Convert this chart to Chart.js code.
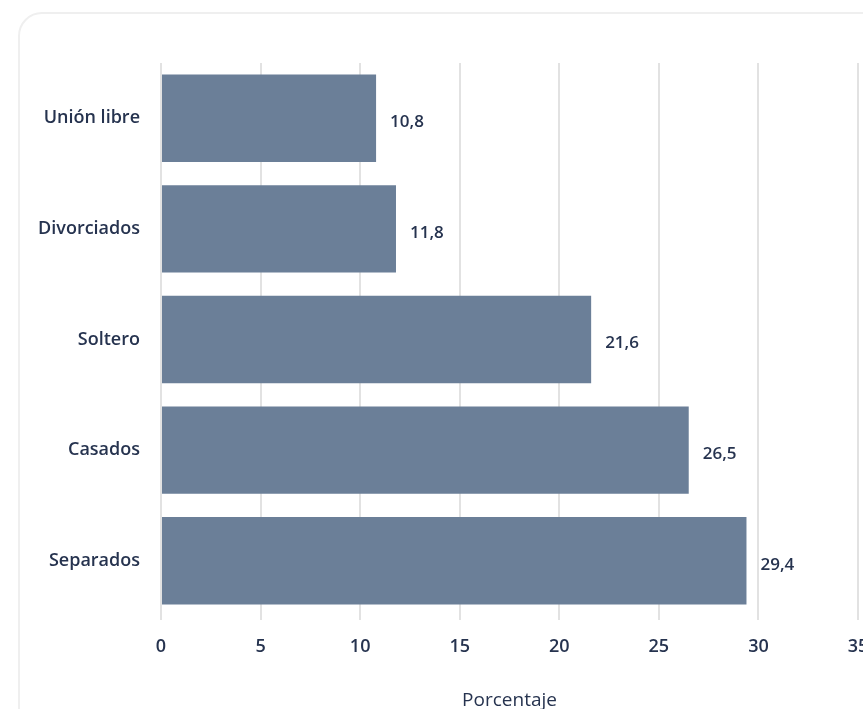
<!DOCTYPE html>
<html>
<head>
<meta charset="utf-8">
<script src="https://cdn.jsdelivr.net/npm/chart.js@4"></script>
<style>
  html,body{margin:0;padding:0;background:#fff;width:863px;height:709px;overflow:hidden;}
  .card{position:absolute;left:18px;top:12px;width:900px;height:720px;border:2px solid #efefef;border-radius:24px;box-sizing:border-box;}
  .wrap{position:absolute;left:0;top:0;width:880px;height:712px;}
</style>
</head>
<body>
<div class="card"></div>
<div class="wrap"><canvas id="chart" width="880" height="712"></canvas></div>
<script>
const categories=["Unión libre","Divorciados","Soltero","Casados","Separados"]
const values=[10.8,11.8,21.6,26.5,29.4]
const xTicks=[0,5,10,15,20,25,30,35]

const TEXT="#26334f"
const FONT="'Open Sans', sans-serif"

// value labels next to each bar, with a decimal comma
const valueLabels={
  id:"valueLabels",
  afterDatasetsDraw(chart){
    const ctx=chart.ctx
    const meta=chart.getDatasetMeta(0)
    ctx.save()
    ctx.fillStyle=TEXT
    ctx.font="600 17px "+FONT
    ctx.textAlign="left"
    ctx.textBaseline="middle"
    meta.data.forEach((bar,i)=>{
      const txt=values[i].toFixed(1).replace(".",",")
      ctx.fillText(txt,bar.x+14,bar.y+4)
    })
    ctx.restore()
  }
}

new Chart(document.getElementById("chart"),{
  type:"bar",
  data:{
    labels:categories,
    datasets:[{
      data:values,
      backgroundColor:"#6b7f98",
      borderWidth:0,
      categoryPercentage:1,
      barPercentage:0.79
    }]
  },
  options:{
    indexAxis:"y",
    responsive:false,
    animation:false,
    layout:{padding:{top:63,right:22,bottom:0,left:0}},
    plugins:{legend:{display:false},tooltip:{enabled:false}},
    scales:{
      x:{
        min:0,max:35,
        afterBuildTicks(axis){axis.ticks=xTicks.map(v=>({value:v}))},
        afterFit(axis){axis.height=96;axis.paddingLeft=0;axis.paddingRight=0},
        grid:{color:"#e2e2e2",lineWidth:2,tickLength:4,drawTicks:true},
        border:{display:false},
        ticks:{color:TEXT,font:{family:FONT,size:18,weight:"600"},padding:16,maxRotation:0},
        title:{display:true,text:"Porcentaje",color:TEXT,font:{family:FONT,size:19,weight:"500"},padding:{top:0,bottom:0}}
      },
      y:{
        afterFit(axis){axis.width=161},
        grid:{display:false,drawTicks:false},
        border:{display:false},
        ticks:{color:TEXT,font:{family:FONT,size:18,weight:"600"},padding:21}
      }
    }
  },
  plugins:[valueLabels]
})
</script>
</body>
</html>
